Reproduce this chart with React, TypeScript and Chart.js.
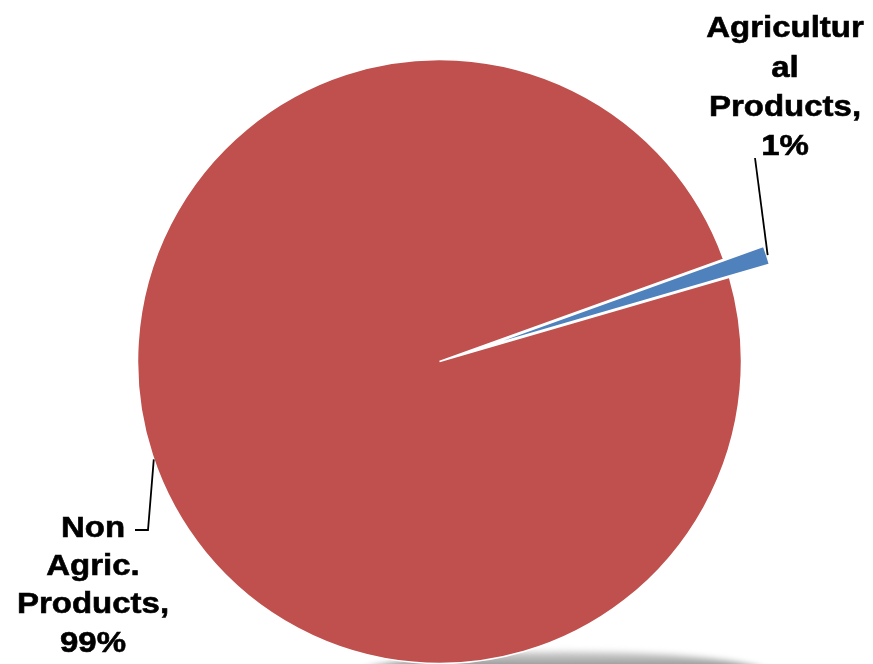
import React, { useEffect, useRef } from "react";
import { Chart, registerables } from "chart.js";

Chart.register(...registerables);

const categories = ["Agricultural Products", "Non Agric. Products"];
const shares = [1, 99];
const labelLines = [
  ["Agricultur", "al", "Products,", "1%"],
  ["Non", "Agric.", "Products,", "99%"],
];
const colors = ["#4F81BD", "#C0504D"];
const explode = [42, 0];

export default function App() {
  const ref = useRef<HTMLCanvasElement>(null);

  useEffect(() => {
    const canvas = ref.current!;

    // explode slices outward along their bisector (Excel-style)
    const explodePlugin = {
      id: "explodeSlices",
      afterDatasetsUpdate(chart: any) {
        const meta = chart.getDatasetMeta(0);
        meta.data.forEach((arc: any, i: number) => {
          const d = explode[i] || 0;
          if (!d || arc.__exploded) return;
          const proto = Object.getPrototypeOf(arc);
          arc.draw = function (ctx: CanvasRenderingContext2D) {
            const mid = (this.startAngle + this.endAngle) / 2;
            ctx.save();
            ctx.translate(Math.cos(mid) * d, Math.sin(mid) * d);
            proto.draw.call(this, ctx);
            ctx.restore();
          };
          arc.__exploded = true;
        });
      },
    };

    const shadowPlugin = {
      id: "pieShadow",
      beforeDatasetsDraw(chart: any) {
        const arc = chart.getDatasetMeta(0).data[1] as any;
        if (!arc) return;
        const { x, y, outerRadius: r } = arc;
        const ctx = chart.ctx as CanvasRenderingContext2D;
        ctx.save();
        ctx.filter = "blur(3px)";
        const g = ctx.createLinearGradient(0, y + r - 16, 0, y + r + 4);
        g.addColorStop(0, "rgba(200,200,200,0.6)");
        g.addColorStop(1, "rgba(140,140,140,0.95)");
        ctx.fillStyle = g;
        ctx.beginPath();
        ctx.ellipse(x + 0.415 * r, y + r + 12, 0.68 * r, 24, 0, 0, Math.PI * 2);
        ctx.fill();
        ctx.restore();
      },
    };

    const labelPlugin = {
      id: "pieLabels",
      afterDraw(chart: any) {
        const meta = chart.getDatasetMeta(0);
        const blue = meta.data[0] as any;
        const red = meta.data[1] as any;
        const ctx = chart.ctx as CanvasRenderingContext2D;
        const { x, y, outerRadius: r } = red;

        ctx.save();
        ctx.strokeStyle = "#000";
        ctx.lineWidth = 1.8;
        // leader for Agricultural
        const mid = (blue.startAngle + blue.endAngle) / 2;
        const bx = blue.x + (r + explode[0]) * Math.cos(mid);
        const by = blue.y + (r + explode[0]) * Math.sin(mid);
        ctx.beginPath();
        ctx.moveTo(755, 158);
        ctx.lineTo(bx + 1, by);
        ctx.stroke();
        // leader for Non Agric
        const a = (161.1 * Math.PI) / 180;
        ctx.beginPath();
        ctx.moveTo(135, 530);
        ctx.lineTo(148, 530);
        ctx.lineTo(x + r * Math.cos(a), y + r * Math.sin(a));
        ctx.stroke();

        ctx.fillStyle = "#000";
        ctx.font = "bold 30px 'Liberation Sans', Arial, sans-serif";
        ctx.textAlign = "center";
        ctx.textBaseline = "alphabetic";
        ctx.lineWidth = 0.6;
        const pos = [
          { cx: 785, base: [37, 77, 116, 155] },
          { cx: 93, base: [537, 575, 613, 652] },
        ];
        labelLines.forEach((lines, i) => {
          lines.forEach((t, j) => {
            ctx.save();
            ctx.translate(pos[i].cx, pos[i].base[j]);
            ctx.scale(1.1, 1);
            ctx.fillText(t, 0, 0);
            ctx.strokeText(t, 0, 0);
            ctx.restore();
          });
        });
        ctx.restore();
      },
    };

    const chart = new Chart(canvas, {
      type: "pie",
      data: {
        labels: categories,
        datasets: [
          {
            data: shares,
            backgroundColor: colors,
            borderColor: "#ffffff",
            borderWidth: 1.5,
            clip: false as any,
          },
        ],
      },
      options: {
        responsive: false,
        animation: false,
        rotation: 70.2,
        radius: 302,
        layout: { padding: { left: 6, right: 0, top: 59, bottom: 0 } },
        plugins: {
          legend: { display: false },
          tooltip: { enabled: false },
        },
      },
      plugins: [explodePlugin, shadowPlugin, labelPlugin],
    });
    return () => chart.destroy();
  }, []);

  return (
    <div
      style={{
        position: "fixed",
        left: 0,
        top: 0,
        width: 873,
        height: 664,
        overflow: "hidden",
        background: "#fff",
      }}
    >
      <canvas ref={ref} width={873} height={664} style={{ display: "block" }} />
    </div>
  );
}
